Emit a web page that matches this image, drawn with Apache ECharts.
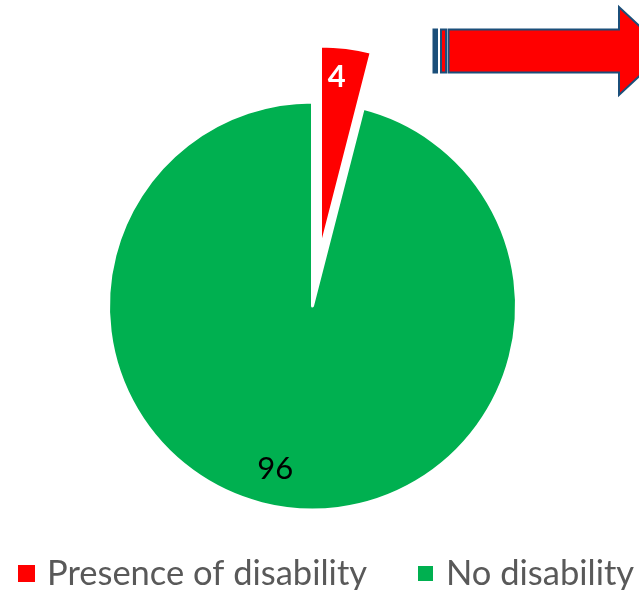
<!DOCTYPE html>
<html>
<head>
<meta charset="utf-8">
<script src="https://cdn.jsdelivr.net/npm/echarts@6/dist/echarts.min.js"></script>
<style>
  html, body { margin: 0; padding: 0; background: #ffffff; }
  #chart { width: 639px; height: 590px; }
</style>
</head>
<body>
<div id="chart"></div>
<script>
// Share of respondents by disability status (%)
const categories = ['Presence of disability', 'No disability'];
const values = [4, 96];
const colors = ['#FF0000', '#00B050'];

const HIDDEN = 'rgba(0,0,0,0)';
const FONT = 'Lato, "Open Sans", sans-serif';

// Build the data for one ring: only the slice at `shownIndex` is visible.
function sliceData(shownIndex) {
  return categories.map((name, i) => ({
    name: name,
    value: values[i],
    itemStyle: i === shownIndex
      ? { color: colors[i], borderColor: '#ffffff', borderWidth: 3 }
      : { color: HIDDEN, borderColor: HIDDEN, borderWidth: 0 },
    label: { show: i === shownIndex }
  }));
}

// One legend block per category so both entries stay on the same row.
const legendLeft = [13, 411];
const legends = categories.map((name, i) => ({
  left: legendLeft[i],
  top: 551,
  width: 400,
  itemWidth: 17,
  itemHeight: 17,
  icon: 'rect',
  selectedMode: false,
  textStyle: { fontFamily: FONT, fontSize: 34.5, color: '#595959', padding: [0, 0, 0, 7] },
  data: [{ name: name, itemStyle: { color: colors[i] } }]
}));

const chart = echarts.init(document.getElementById('chart'), null, { renderer: 'canvas' });

chart.setOption({
  animation: false,
  backgroundColor: '#ffffff',
  legend: legends,
  series: [
    {
      // main body of the pie
      type: 'pie',
      silent: true,
      center: [312.5, 306],
      radius: [0, 204],
      startAngle: 90,
      clockwise: true,
      label: {
        position: 'inside',
        formatter: '{c}',
        fontFamily: FONT,
        fontSize: 31,
        color: '#000000'
      },
      labelLine: { show: false },
      labelLayout: { dx: -24, dy: 59 },
      data: sliceData(1)
    },
    {
      // exploded slice
      type: 'pie',
      silent: true,
      center: [320.5, 250],
      radius: [0, 204],
      startAngle: 90,
      clockwise: true,
      label: {
        position: 'inside',
        formatter: '{c}',
        fontFamily: FONT,
        fontSize: 31,
        fontWeight: 'bold',
        color: '#ffffff'
      },
      labelLine: { show: false },
      labelLayout: { dx: 3, dy: -69 },
      data: sliceData(0)
    }
  ],
  graphic: {
    elements: [
      {
        // striped block arrow pointing right
        type: 'group',
        silent: true,
        children: [
          {
            type: 'rect',
            shape: { x: 433.5, y: 29.5, width: 3.5, height: 43 },
            style: { fill: '#1B4F7A', stroke: '#1B4F7A', lineWidth: 2 }
          },
          {
            type: 'rect',
            shape: { x: 441, y: 29.5, width: 5, height: 43 },
            style: { fill: '#FF0000', stroke: '#1B4F7A', lineWidth: 2 }
          },
          {
            type: 'polygon',
            shape: {
              points: [
                [448.5, 29.5], [619, 29.5], [619, 7], [666, 51],
                [619, 95], [619, 72.5], [448.5, 72.5]
              ]
            },
            style: { fill: '#FF0000', stroke: '#1B4F7A', lineWidth: 2 }
          }
        ]
      }
    ]
  }
});
</script>
</body>
</html>
